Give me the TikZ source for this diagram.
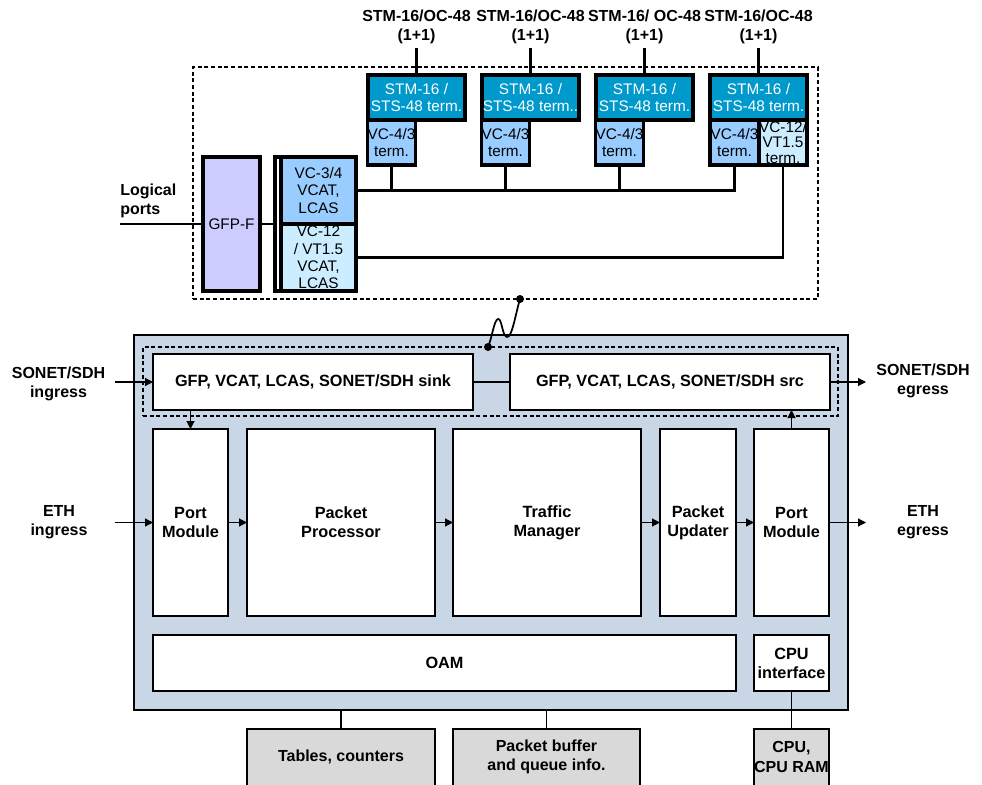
\documentclass[tikz,border=0pt]{standalone}
\usepackage{fontspec}
\setmainfont{Liberation Sans}
\usetikzlibrary{arrows.meta}
\definecolor{stmc}{RGB}{0,153,204}
\definecolor{vcA}{RGB}{153,204,255}
\definecolor{vcB}{RGB}{204,236,255}
\definecolor{gfpc}{RGB}{204,204,255}
\definecolor{bigc}{RGB}{201,214,230}
\definecolor{grayc}{RGB}{217,217,217}
\newcommand\bx[7]{\node[#6, minimum width={(#4-(#2))*0.75pt}, minimum height={(#5-(#3))*0.75pt}] (#1) at ({((#2)+(#4))/2},{((#3)+(#5))/2}) {#7};}
\begin{document}
\begin{tikzpicture}[x=0.75pt,y=-0.75pt,
  box/.style={draw, rectangle, inner sep=0pt, outer sep=0pt, align=center},
  tbox/.style={box, line width=2.5pt, font=\fontsize{11.5}{13}\selectfont},
  wbox/.style={box, fill=white, line width=0.9pt, font=\fontsize{12.2}{14.3}\selectfont\bfseries},
  gbox/.style={box, fill=grayc, line width=2pt, font=\fontsize{12.2}{14.3}\selectfont\bfseries},
  lbl/.style={align=center, inner sep=0pt, font=\fontsize{12}{14.3}\selectfont\bfseries},
  dbox/.style={box, dashed, line width=0.9pt, dash pattern=on 3pt off 2pt},
  arr/.style={-{Triangle[length=6pt,width=6pt]}, line width=0.9pt},
  ln/.style={line width=1.6pt},
  thin/.style={line width=0.9pt}]
\clip (0,0) rectangle (982,785);
\fill[white] (0,0) rectangle (982,785);

% ---------- top part ----------
\bx{dash}{193}{67}{818}{299}{dbox}{}
\bx{s1}{368}{75}{465}{120}{tbox, fill=stmc, text=white}{STM-16 /\\STS-48 term.}
\bx{s2}{482}{75}{579}{120}{tbox, fill=stmc, text=white}{STM-16 /\\STS-48 term..}
\bx{s3}{596}{75}{693}{120}{tbox, fill=stmc, text=white}{STM-16 /\\STS-48 term.}
\bx{s4}{710}{75}{807}{120}{tbox, fill=stmc, text=white}{STM-16 /\\STS-48 term.}
\bx{v1}{368}{120}{415}{165}{tbox, fill=vcA}{VC-4/3\\term.}
\bx{v2}{482}{120}{529}{165}{tbox, fill=vcA}{VC-4/3\\term.}
\bx{v3}{596}{120}{643}{165}{tbox, fill=vcA}{VC-4/3\\term.}
\bx{v4}{710}{120}{759}{165}{tbox, fill=vcA}{VC-4/3\\term.}
\bx{v5}{759}{120}{807}{165}{tbox, fill=vcB, font=\fontsize{11.5}{11.5}\selectfont}{VC-12/\\VT1.5\\term.}

\node[lbl] (h1) at (416.5,27) {STM-16/OC-48\\(1+1)};
\node[lbl] (h2) at (530.5,27) {STM-16/OC-48\\(1+1)};
\node[lbl] (h3) at (644.5,27) {STM-16/ OC-48\\(1+1)};
\node[lbl] (h4) at (758.5,27) {STM-16/OC-48\\(1+1)};
\foreach \i in {1,2,3,4}{\draw[ln] (h\i.south) ++(0,4) -- (s\i.north);}

\bx{gfp}{203}{157}{260}{291}{tbox, fill=gfpc}{GFP-F}
\bx{vcat}{275}{157}{356}{291}{tbox, fill=white}{}
\bx{vc34}{281}{157}{356}{224}{tbox, fill=vcA}{VC-3/4\\VCAT,\\LCAS}
\bx{vc12}{281}{224}{356}{291}{tbox, fill=vcB}{VC-12\\/ VT1.5\\VCAT,\\LCAS}

\node[lbl, align=left, anchor=west] (lp) at (120,201) {Logical\\ports};
\coordinate (lpe) at (120,224);
\draw[ln] (lpe) -- (gfp.west);
\draw[ln] (gfp.east) -- (vcat.west);
\draw[ln] (v4.south) |- (vc34.east);
\foreach \i in {1,2,3}{\draw[ln] (v\i.south) -- (v\i.south |- vc34.east);}
\draw[ln] (v5.south) |- (vc12.east);

% ---------- lower part ----------
\bx{big}{134}{335}{848}{710}{box, fill=bigc, line width=2pt}{}
\bx{idash}{143}{347}{838}{416}{dbox}{}
\bx{sink}{153}{354}{473}{410}{wbox}{GFP, VCAT, LCAS, SONET/SDH sink}
\bx{src}{510}{354}{830}{410}{wbox}{GFP, VCAT, LCAS, SONET/SDH src}
\draw[thin] (sink.east) -- (src.west);

\bx{pm1}{153}{429}{228}{616}{wbox}{Port\\Module}
\bx{pp}{247}{429}{435}{616}{wbox}{Packet\\Processor}
\bx{tm}{453}{429}{641}{616}{wbox}{Traffic\\Manager}
\bx{pu}{660}{429}{736}{616}{wbox}{Packet\\Updater}
\bx{pm2}{754}{429}{829}{616}{wbox}{Port\\Module}
\bx{oam}{153}{635}{736}{691}{wbox}{OAM}
\bx{cpui}{754}{635}{829}{691}{wbox}{CPU\\interface}

\draw[arr] (pm1.east) -- (pp.west);
\draw[arr] (pp.east) -- (tm.west);
\draw[arr] (tm.east) -- (pu.west);
\draw[arr] (pu.east) -- (pm2.west);
\draw[arr] (sink.south -| pm1.north) -- (pm1.north);
\draw[arr] (pm2.north) -- (pm2.north |- src.south);

\node[lbl] (si) at (58.5,383.5) {SONET/SDH\\ingress};
\node[lbl] (se) at (923,381) {SONET/SDH\\egress};
\node[lbl] (ei) at (59,522.5) {ETH\\ingress};
\node[lbl] (ee) at (923,522.5) {ETH\\egress};
\coordinate (siA) at (115,382);
\coordinate (seA) at (866,382);
\coordinate (eiA) at (115,522.5);
\coordinate (eeA) at (866,522.5);
\draw[arr] (siA) -- (sink.west);
\draw[arr] (src.east) -- (seA);
\draw[arr] (eiA) -- (pm1.west);
\draw[arr] (pm2.east) -- (eeA);

\bx{tab}{247}{729}{435}{792}{gbox}{}
\bx{buf}{453}{729}{640}{792}{gbox}{}
\bx{cpu}{754}{729}{829}{792}{gbox}{}
\node[lbl] (tabt) at (341,757) {Tables, counters};
\node[lbl] (buft) at (546.5,757) {Packet buffer\\and queue info.};
\node[lbl] (cput) at (791.5,757) {CPU,\\CPU RAM};
\draw[thin] (tab.north) -- (tab.north |- big.south);
\draw[thin] (buf.north) -- (buf.north |- big.south);
\draw[thin] (cpui.south) -- (cpu.north);

% squiggle link
\coordinate (d1) at (520,299);
\coordinate (d2) at (488,347);
\fill (d1) circle (3pt);
\fill (d2) circle (3pt);
\draw[line width=1.3pt] (d1) .. controls (516,312) and (512,338) .. (507,337)
  .. controls (502,336) and (502,318) .. (498,319)
  .. controls (494,320) and (492,338) .. (d2);
\end{tikzpicture}
\end{document}
